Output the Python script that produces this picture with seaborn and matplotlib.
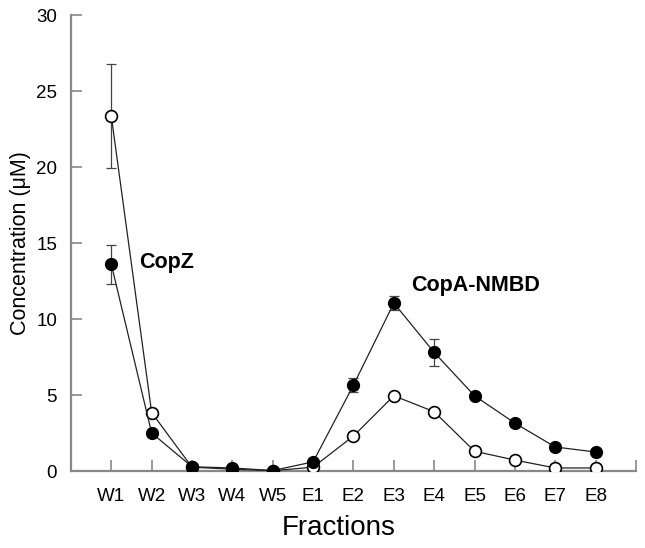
import numpy as np
import pandas as pd
import seaborn as sns
from matplotlib import pyplot as plt

sns.set_theme(style='white')
plt.rcParams['font.family'] = ['Liberation Sans', 'DejaVu Sans']
plt.rcParams['text.color'] = 'black'
plt.rcParams['axes.labelcolor'] = 'black'

fractions = ['W1', 'W2', 'W3', 'W4', 'W5', 'E1', 'E2', 'E3', 'E4', 'E5', 'E6', 'E7', 'E8']
filled = [13.6, 2.5, 0.28, 0.2, 0.03, 0.6, 5.65, 11.05, 7.8, 4.95, 3.15, 1.58, 1.25]
filled_err = [1.3, np.nan, np.nan, np.nan, np.nan, np.nan, 0.45, 0.45, 0.9,
              np.nan, np.nan, np.nan, np.nan]
hollow = [23.35, 3.84, 0.25, 0.12, 0.02, 0.25, 2.3, 4.95, 3.9, 1.3, 0.72, 0.2, 0.2]
hollow_err = [3.4, np.nan, np.nan, np.nan, np.nan, np.nan, np.nan, np.nan, np.nan,
              np.nan, np.nan, np.nan, np.nan]

pos = np.arange(len(fractions))
df = pd.DataFrame({'pos': pos, 'filled': filled, 'hollow': hollow})

fig = plt.figure(figsize=(6.45, 5.48), dpi=100)
ax = fig.add_axes([0.110, 0.1405, 0.876, 0.832])

ink = '#222222'
ax.errorbar(pos, hollow, yerr=hollow_err, fmt='none', ecolor='#444444',
            elinewidth=0.9, capsize=3.5, capthick=0.9, zorder=2)
ax.errorbar(pos, filled, yerr=filled_err, fmt='none', ecolor='#444444',
            elinewidth=0.9, capsize=3.5, capthick=0.9, zorder=2)
sns.lineplot(data=df, x='pos', y='hollow', ax=ax, color=ink, lw=0.9,
             marker='o', markersize=8.5, markerfacecolor='white',
             markeredgecolor='black', markeredgewidth=1.2, zorder=3)
sns.lineplot(data=df, x='pos', y='filled', ax=ax, color=ink, lw=0.9,
             marker='o', markersize=8.5, markerfacecolor='black',
             markeredgecolor='black', markeredgewidth=1.0, zorder=4)

ax.text(0.7, 13.75, 'CopZ', fontsize=15.5, fontweight='bold', va='center')
ax.text(7.44, 12.2, 'CopA-NMBD', fontsize=15.5, fontweight='bold', va='center')

ax.set_xlim(-1, 13)
ax.set_ylim(0, 30)
ax.set_xticks(np.arange(-1, 14))
ax.set_xticklabels([''] + fractions + [''])
ax.set_yticks(np.arange(0, 31, 5))
ax.tick_params(axis='both', direction='in', length=8, width=1.2, color='#888888',
               labelsize=13.5, labelcolor='black', bottom=True, left=True)
ax.tick_params(axis='y', pad=10)
ax.tick_params(axis='x', pad=12)

for side in ['top', 'right']:
    ax.spines[side].set_visible(False)
for side in ['left', 'bottom']:
    ax.spines[side].set_color('#888888')
    ax.spines[side].set_linewidth(1.6)

ax.set_xlabel('Fractions', fontsize=20)
ax.xaxis.set_label_coords(0.474, -0.097)
ax.set_ylabel('Concentration (\u03bcM)', fontsize=15.5, labelpad=4)

plt.savefig('out.png', dpi=100)
